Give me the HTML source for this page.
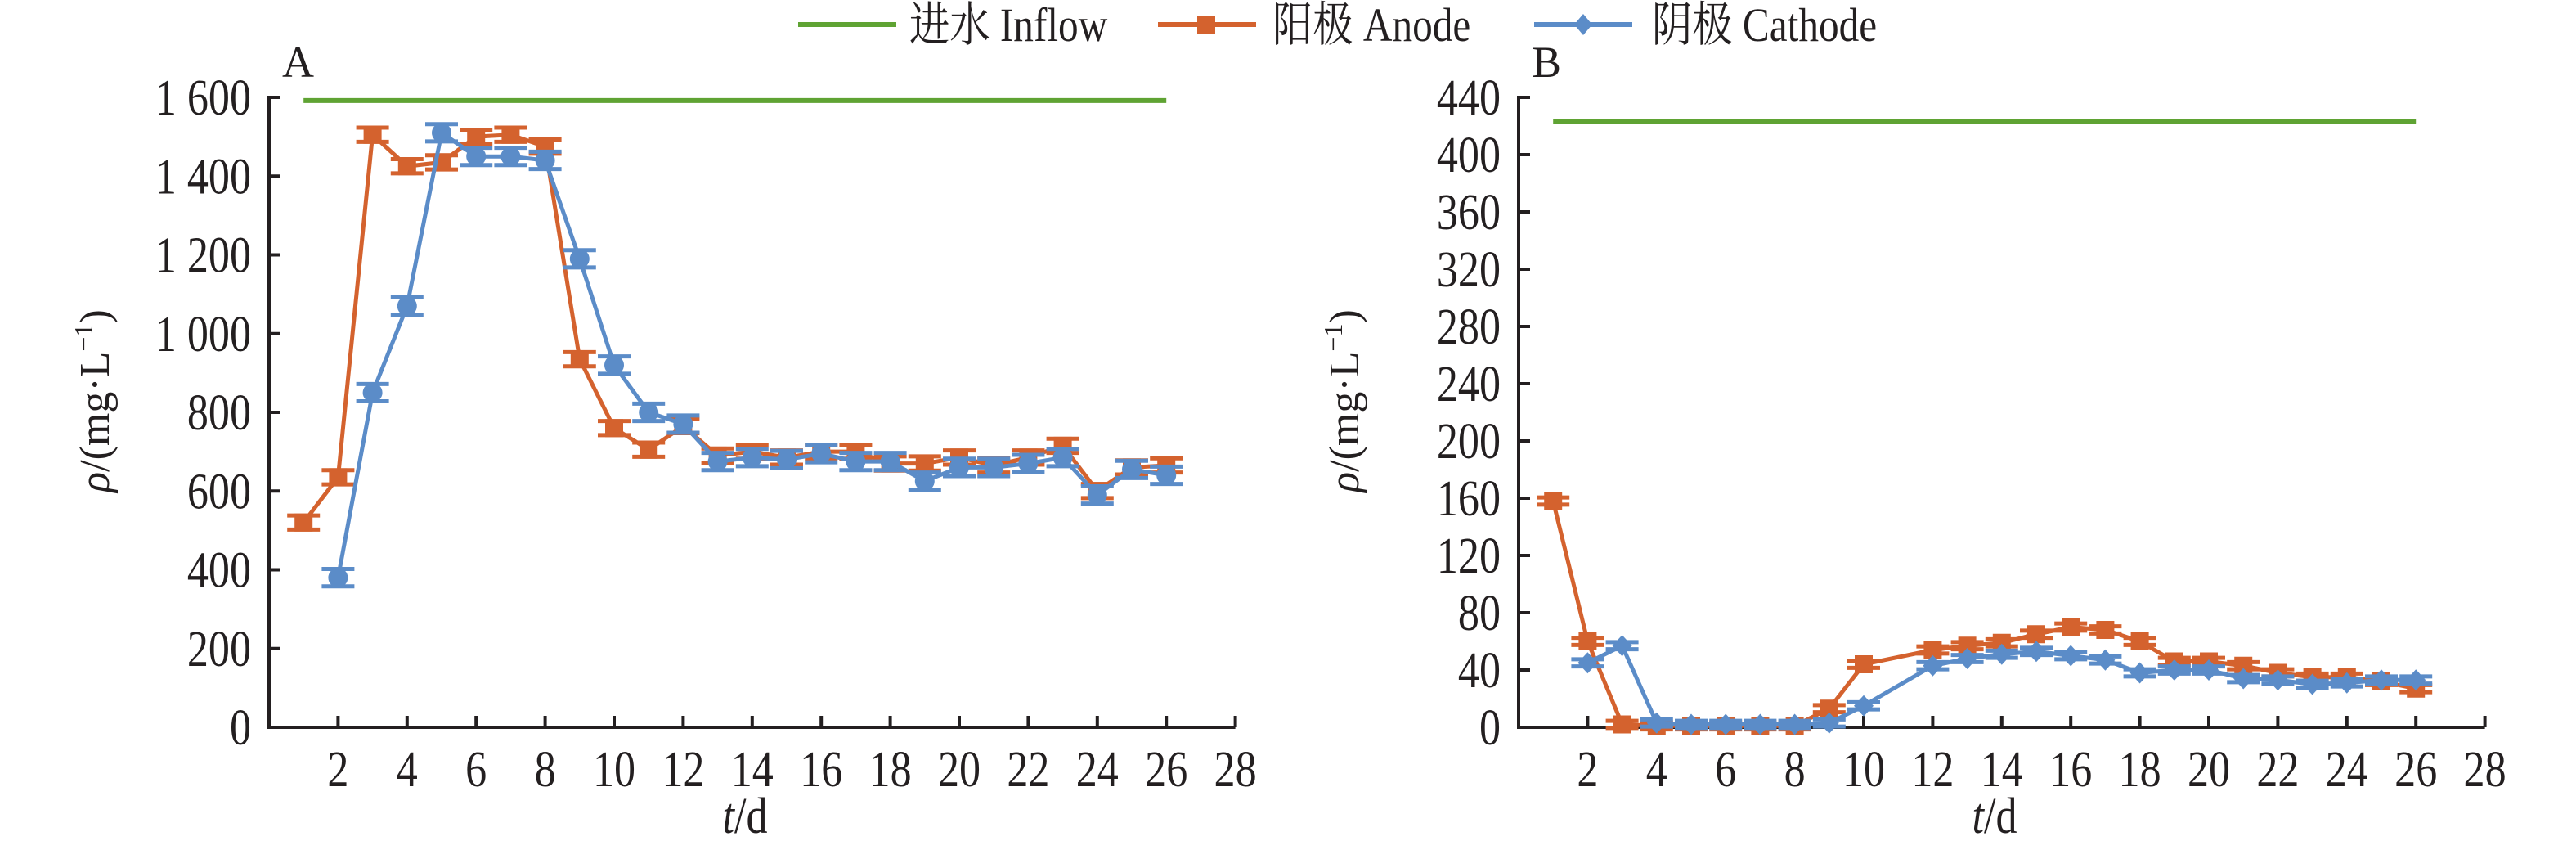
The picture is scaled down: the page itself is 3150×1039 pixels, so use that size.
<!DOCTYPE html>
<html><head><meta charset="utf-8"><style>
html,body{margin:0;padding:0;background:#fff;width:3150px;height:1039px;overflow:hidden}
svg text{font-family:"Liberation Serif","Noto Serif CJK SC","Noto Sans CJK SC",serif;fill:#231f20}
</style></head><body>
<svg id="s" width="3150" height="1039" viewBox="0 0 3150 1039" xmlns="http://www.w3.org/2000/svg">
<line x1="976" y1="30" x2="1096" y2="30" stroke="#5fa333" stroke-width="6"/>
<text transform="translate(1112,50) scale(0.85,1)" font-size="58">进水 Inflow</text>
<line x1="1416" y1="30" x2="1536" y2="30" stroke="#d4622e" stroke-width="6"/>
<rect x="1464" y="19" width="22" height="22" fill="#d4622e"/>
<text transform="translate(1556,50) scale(0.85,1)" font-size="58">阳极 Anode</text>
<line x1="1876" y1="30" x2="1996" y2="30" stroke="#5b8cc8" stroke-width="6"/>
<path d="M1936 17 L1947 30 L1936 43 L1925 30Z" fill="#5b8cc8"/>
<text transform="translate(2020,50) scale(0.85,1)" font-size="58">阴极 Cathode</text>
<g id="g"></g>
</svg>
<script>
var g=document.getElementById('g'),h='';
function panel(ax,ymax,step,lab,labs,green,an,ca,circ){
 var y0=889,y1=119,xd=function(d){return ax+42.2*d},yv=function(v){return y0-(v/ymax)*(y0-y1)};
 h+='<line x1="'+ax+'" y1="'+(y1-2)+'" x2="'+ax+'" y2="'+(y0+2)+'" stroke="#231f20" stroke-width="4"/>';
 h+='<line x1="'+(ax-2)+'" y1="'+y0+'" x2="'+xd(28)+'" y2="'+y0+'" stroke="#231f20" stroke-width="4"/>';
 for(var v=0;v<=ymax;v+=step){var y=yv(v);
  h+='<line x1="'+ax+'" y1="'+y+'" x2="'+(ax+14)+'" y2="'+y+'" stroke="#231f20" stroke-width="4"/>';
  h+='<text transform="translate('+(ax-22)+','+(y+21)+') scale(0.84,1)" font-size="62" text-anchor="end">'+labs(v)+'</text>';}
 for(var d=2;d<=28;d+=2){var x=xd(d);
  h+='<line x1="'+x+'" y1="'+y0+'" x2="'+x+'" y2="'+(y0-14)+'" stroke="#231f20" stroke-width="4"/>';
  h+='<text transform="translate('+x+','+(y0+72)+') scale(0.84,1)" font-size="62" text-anchor="middle">'+d+'</text>';}
 h+='<text x="'+(ax+16)+'" y="94" font-size="54">'+lab+'</text>';
 h+='<text transform="translate('+(ax-196)+',490) rotate(-90)" font-size="52" text-anchor="middle"><tspan font-style="italic">ρ</tspan>/(mg·L<tspan font-size="32" dy="-20">−1</tspan><tspan dy="20">)</tspan></text>';
 h+='<text transform="translate('+(ax+582)+',1018) scale(0.84,1)" font-size="62" text-anchor="middle"><tspan font-style="italic">t</tspan>/d</text>';
 h+='<line x1="'+xd(1)+'" y1="'+yv(green)+'" x2="'+xd(26)+'" y2="'+yv(green)+'" stroke="#5fa333" stroke-width="6"/>';
 function ser(data,col,mk){var p=[];for(var k in data)p.push(xd(+k)+','+yv(data[k][0]));
  h+='<polyline points="'+p.join(' ')+'" fill="none" stroke="'+col+'" stroke-width="5"/>';
  for(var k in data){var x=xd(+k),y=yv(data[k][0]),e=data[k][1]*(y0-y1)/ymax;
   h+='<line x1="'+x+'" y1="'+(y-e)+'" x2="'+x+'" y2="'+(y+e)+'" stroke="'+col+'" stroke-width="4"/>';
   h+='<line x1="'+(x-20)+'" y1="'+(y-e)+'" x2="'+(x+20)+'" y2="'+(y-e)+'" stroke="'+col+'" stroke-width="5"/>';
   h+='<line x1="'+(x-20)+'" y1="'+(y+e)+'" x2="'+(x+20)+'" y2="'+(y+e)+'" stroke="'+col+'" stroke-width="5"/>';
   if(mk=='sq')h+='<rect x="'+(x-11)+'" y="'+(y-11)+'" width="22" height="22" fill="'+col+'"/>';
   else if(mk=='c')h+='<circle cx="'+x+'" cy="'+y+'" r="12" fill="'+col+'"/>';
   else h+='<path d="M'+x+' '+(y-13)+' L'+(x+12)+' '+y+' L'+x+' '+(y+13)+' L'+(x-12)+' '+y+'Z" fill="'+col+'"/>';}}
 ser(an,'#d4622e','sq');ser(ca,'#5b8cc8',circ?'c':'d');
}
function sp(v){return v>=1000?(Math.floor(v/1000)+' '+String(v%1000).padStart(3,'0')):''+v}
function mk(a,e){var o={};for(var k in a)o[k]=[a[k],e];return o}
var anA={1:520,2:635,3:1505,4:1425,5:1435,6:1500,7:1505,8:1475,9:935,10:760,11:705,12:765,13:690,14:700,15:685,16:700,17:700,18:670,19:670,20:685,21:665,22:685,23:715,24:600,25:660,26:665};
var caA={2:380,3:850,4:1070,5:1510,6:1450,7:1450,8:1440,9:1190,10:920,11:800,12:770,13:675,14:685,15:680,16:695,17:675,18:675,19:625,20:660,21:660,22:670,23:685,24:590,25:655,26:640};
var anB={1:158,2:60,3:2,4:1,5:1,6:1,7:1,8:1,9:13,10:44,12:54,13:57,14:59,15:65,16:70,17:68,18:60,19:46,20:46,21:43,22:38,23:35,24:35,25:32,26:27};
var caB={2:45,3:57,4:3,5:2,6:2,7:2,8:2,9:3,10:15,12:43,13:48,14:51,15:53,16:50,17:47,18:38,19:40,20:40,21:34,22:33,23:30,24:31,25:33,26:33};
panel(329,1600,200,'A',sp,1592,mk(anA,18),mk(caA,22),true);
panel(1857,440,40,'B',sp,423,mk(anB,2.5),mk(caB,2.5),false);
g.innerHTML=h;
</script>
</body></html>
